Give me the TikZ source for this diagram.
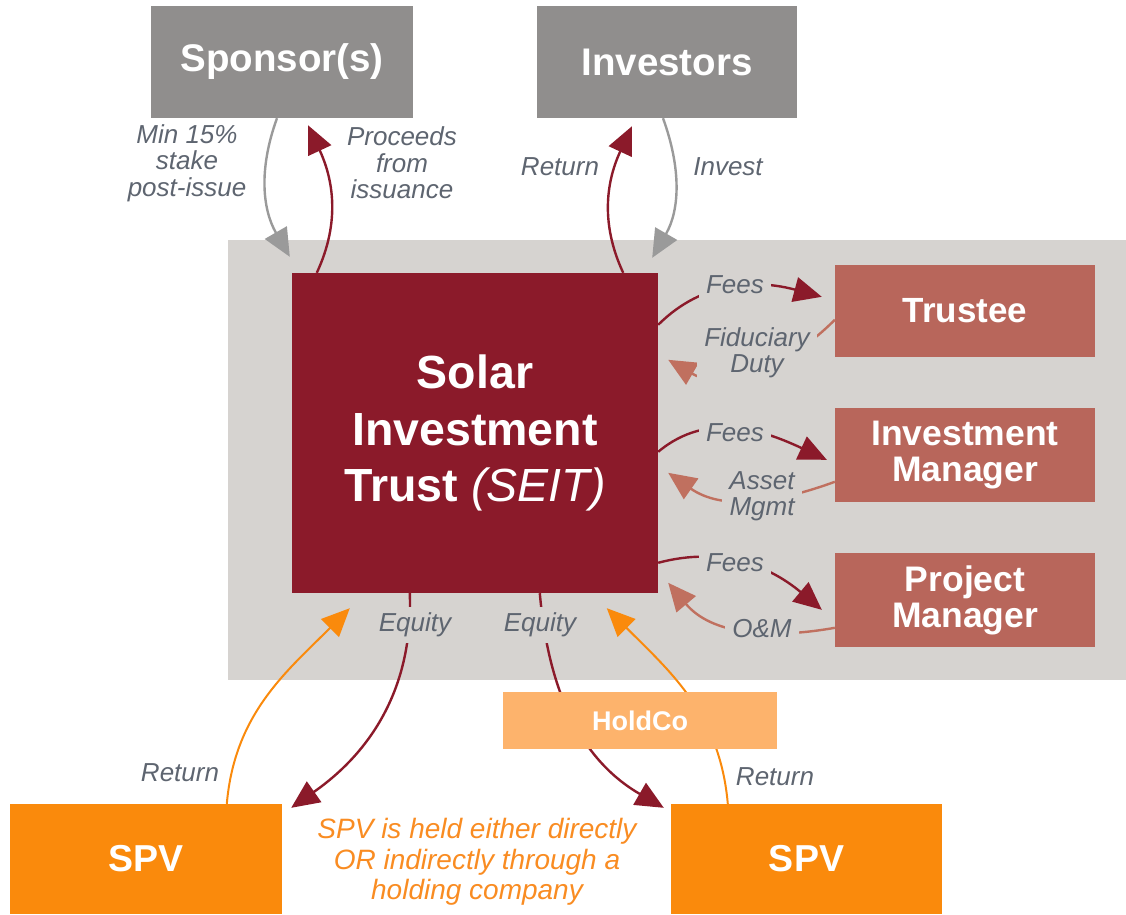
\documentclass[tikz,border=0pt]{standalone}
\usepackage{fontspec}
\setmainfont{Liberation Sans}
\usetikzlibrary{arrows.meta}

\definecolor{bggray}{HTML}{D6D3D0}
\definecolor{boxgray}{HTML}{908E8D}
\definecolor{seitred}{HTML}{8B1A2A}
\definecolor{mgrred}{HTML}{B8665B}
\definecolor{dutyred}{HTML}{C0705F}
\definecolor{spvorange}{HTML}{FA8A0C}
\definecolor{holdorange}{HTML}{FDB36C}
\definecolor{noteorange}{HTML}{F98C22}
\definecolor{flowgray}{HTML}{9A9A9A}
\definecolor{lbltext}{HTML}{5E6570}

\begin{document}
\begin{tikzpicture}[x=1pt, y=1pt,
		box/.style={rectangle, inner sep=0pt, text=white, align=center},
		lbl/.style={text=lbltext, align=center, inner sep=3pt, font=\fontsize{26}{26.5}\selectfont\itshape},
		gap/.style={lbl, fill=bggray, inner xsep=7pt, inner ysep=6pt},
		flow/.style={line width=2.4pt, -{Triangle[length=28pt,width=25pt]}}]
			\useasboundingbox (0,0) rectangle (1126,-914);
			\fill [bggray] (228,-240) rectangle (1126,-680);

			\node [box, fill=boxgray, minimum width=262pt, minimum height=112pt, font=\bfseries\fontsize{38.5}{40}\selectfont] (sponsor) at (282,-62) {Sponsor(s)};
			\node [box, fill=boxgray, minimum width=260pt, minimum height=112pt, font=\bfseries\fontsize{38.5}{40}\selectfont] (investors) at (667,-62) {Investors};
			\node [box, fill=seitred, minimum width=366pt, minimum height=320pt, font=\bfseries\fontsize{46.5}{56.5}\selectfont] (seit) at (475,-433) {Solar\\Investment\\Trust {\mdseries\itshape(SEIT)}};
			\node [box, fill=mgrred, minimum width=260pt, minimum height=92pt, font=\bfseries\fontsize{35}{36}\selectfont] (trustee) at (965,-311) {Trustee};
			\node [box, fill=mgrred, minimum width=260pt, minimum height=94pt, font=\bfseries\fontsize{35.5}{36}\selectfont] (invmgr) at (965,-455) {Investment\\Manager};
			\node [box, fill=mgrred, minimum width=260pt, minimum height=94pt, font=\bfseries\fontsize{35.5}{36}\selectfont] (projmgr) at (965,-600) {Project\\Manager};
			\node [box, fill=spvorange, minimum width=272pt, minimum height=110pt, font=\bfseries\fontsize{37.5}{40}\selectfont] (spvl) at (146,-859) {SPV};
			\node [box, fill=spvorange, minimum width=271pt, minimum height=110pt, font=\bfseries\fontsize{37.5}{40}\selectfont] (spvr) at (806.5,-859) {SPV};

			\draw [flow, flowgray] ([xshift=-5pt]sponsor.south) to [out=250, in=120] ([xshift=-2pt, yshift=16pt]seit.north west);
			\draw [flow, seitred] ([xshift=25pt]seit.north west) to [out=65, in=-65] ([xshift=26pt, yshift=-7pt]sponsor.south);
			\draw [flow, seitred] ([xshift=-35pt]seit.north east) to [out=115, in=245] ([xshift=-35pt, yshift=-8pt]investors.south);
			\draw [flow, flowgray] ([xshift=-4pt]investors.south) to [out=290, in=60] ([xshift=-6pt, yshift=15pt]seit.north east);

			\draw [flow, seitred] ([yshift=-52pt]seit.north east) to [out=45, in=165] ([xshift=-13pt, yshift=-32pt]trustee.north west);
			\draw [flow, dutyred] ([yshift=-55pt]trustee.north west) to [out=225, in=-30] ([xshift=10pt, yshift=-87pt]seit.north east);
			\draw [flow, seitred] ([yshift=-179pt]seit.north east) to [out=40, in=155] ([xshift=-8pt, yshift=-52pt]invmgr.north west);
			\draw [flow, dutyred] ([yshift=-74pt]invmgr.north west) to [out=200, in=-35] ([xshift=10pt, yshift=-200pt]seit.north east);
			\draw [flow, seitred] ([yshift=-290pt]seit.north east) to [out=15, in=140] ([xshift=-13pt, yshift=-57pt]projmgr.north west);
			\draw [flow, dutyred] ([yshift=-75pt]projmgr.north west) to [out=190, in=-50] ([xshift=10pt, yshift=-310pt]seit.north east);

			\draw [flow, seitred] ([xshift=118pt]seit.south west) to [out=-88, in=35] ([xshift=9pt, yshift=-4pt]spvl.north east);
			\draw [flow, seitred] ([xshift=248pt]seit.south west) to [out=-85, in=150] ([xshift=-7pt, yshift=-4pt]spvr.north west);
			\draw [flow, spvorange, line width=2pt] ([xshift=217pt]spvl.north west) to [out=85, in=225] ([xshift=58pt, yshift=-15pt]seit.south west);
			\draw [flow, spvorange, line width=2pt] ([xshift=57pt]spvr.north west) to [out=95, in=315] ([xshift=315pt, yshift=-15pt]seit.south west);

			\node [box, fill=holdorange, minimum width=274pt, minimum height=57pt, font=\bfseries\fontsize{27}{30}\selectfont] (holdco) at (640,-720.5) {HoldCo};

			\node [lbl] (stake) at (187,-163) {Min 15\%\\stake\\post-issue};
			\node [lbl] (proceeds) at (402,-163) {Proceeds\\from\\issuance};
			\node [lbl] (retinv) at (560,-167) {Return};
			\node [lbl] (invest) at (728,-167) {Invest};
			\node [gap] (feestr) at (735,-285) {Fees};
			\node [gap] (duty) at (757,-353) {Fiduciary\\Duty};
			\node [gap] (feesim) at (735,-433) {Fees};
			\node [gap] (mgmt) at (762,-496) {Asset\\Mgmt};
			\node [gap] (feespm) at (735,-563) {Fees};
			\node [gap] (om) at (762,-629) {O\&M};
			\node [gap] (eqdirect) at (415,-625) {Equity};
			\node [gap] (eqhold) at (540,-625) {Equity};
			\node [lbl] (retl) at (180,-773) {Return};
			\node [lbl] (retr) at (775,-777) {Return};
			\node [lbl, text=noteorange, font=\fontsize{28}{30.5}\selectfont\itshape] (note) at (477,-862) {SPV is held either directly\\OR indirectly through a\\holding company};
		\end{tikzpicture}
\end{document}
